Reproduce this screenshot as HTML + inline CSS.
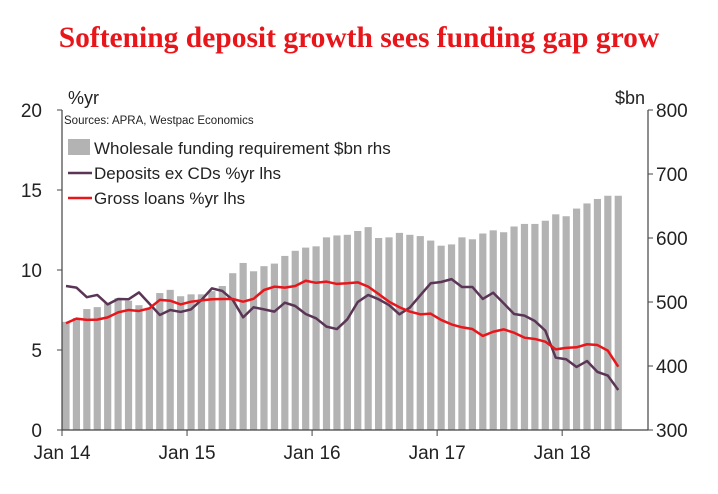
<!DOCTYPE html>
<html><head><meta charset="utf-8"><style>
body{margin:0;background:#fff;width:718px;height:489px;overflow:hidden}
svg text{font-family:"Liberation Sans",sans-serif}
</style></head><body>
<svg width="718" height="489" xmlns="http://www.w3.org/2000/svg">
<text x="359" y="47" text-anchor="middle" fill="#e8161b" font-size="29.5" font-weight="bold" style="font-family:'Liberation Serif',serif">Softening deposit growth sees funding gap grow</text>
<text x="68" y="104" font-size="18" fill="#222">%yr</text>
<text x="615" y="104" font-size="18" fill="#222">$bn</text>
<text x="64" y="124" font-size="11.5" fill="#222">Sources: APRA, Westpac Economics</text>
<g id="bars"></g>
<g id="lines"></g>
<g id="axes"></g>
<g>
<rect x="68" y="139" width="22" height="16" fill="#b3b3b3"/>
<text x="94" y="154" font-size="17" fill="#222">Wholesale funding requirement $bn rhs</text>
<line x1="68" y1="173" x2="92" y2="173" stroke="#5a3556" stroke-width="2.5"/>
<text x="94" y="179" font-size="17" fill="#222">Deposits ex CDs %yr lhs</text>
<line x1="68" y1="198" x2="92" y2="198" stroke="#e8161b" stroke-width="2.5"/>
<text x="94" y="204" font-size="17" fill="#222">Gross loans %yr lhs</text>
</g>
</svg>
<script>
const funding=[469,475,489,492,498,506,502,495,491,514,519,509,512,512,517,525,545,561,548,556,560,572,580,585,587,601,604,605,611,617,600,601,608,605,603,596,588,590,601,598,607,612,609,618,622,622,627,637,634,646,654,661,666,666];
const deposits=[9.0,8.9,8.3,8.44,7.85,8.19,8.17,8.6,7.9,7.19,7.5,7.38,7.54,8.13,8.85,8.69,8.13,7.04,7.67,7.54,7.4,7.96,7.75,7.25,6.98,6.46,6.31,6.92,8.0,8.44,8.17,7.81,7.23,7.65,8.42,9.17,9.25,9.43,8.94,8.94,8.19,8.58,7.92,7.25,7.15,6.81,6.21,4.52,4.42,3.94,4.31,3.63,3.4,2.5];
const loans=[6.67,6.96,6.88,6.9,7.04,7.35,7.5,7.44,7.6,8.13,8.08,7.85,8.02,8.1,8.17,8.19,8.19,8.02,8.2,8.75,8.96,8.9,9.0,9.33,9.2,9.27,9.13,9.17,9.23,8.96,8.5,8.02,7.67,7.4,7.23,7.27,6.88,6.6,6.42,6.31,5.88,6.14,6.29,6.08,5.77,5.69,5.52,5.04,5.13,5.17,5.36,5.31,4.96,3.96];
const leftTicks=[0,5,10,15,20];
const rightTicks=[300,400,500,600,700,800];
const xLabels=["Jan 14","Jan 15","Jan 16","Jan 17","Jan 18"];
const NS="http://www.w3.org/2000/svg";
const X0=62,X1=648,Y0=430,Y1=110,MW=10.42;
const xc=i=>66+i*MW;
const yl=v=>Y0-(v/20)*(Y0-Y1);
const yr=v=>Y0-((v-300)/500)*(Y0-Y1);
function mk(tag,attrs,parent){const e=document.createElementNS(NS,tag);for(const k in attrs)e.setAttribute(k,attrs[k]);parent.appendChild(e);return e;}
const gb=document.getElementById('bars');
funding.forEach((v,i)=>{const r=mk('rect',{x:xc(i)-3.6,y:yr(v),width:7.2,height:Y0-yr(v),fill:'#b3b3b3'},gb);

});
const gl=document.getElementById('lines');
const p1=mk('polyline',{points:deposits.map((v,i)=>xc(i)+','+yl(v)).join(' '),fill:'none',stroke:'#5a3556','stroke-width':2.5,'stroke-linejoin':'round'},gl);


const p2=mk('polyline',{points:loans.map((v,i)=>xc(i)+','+yl(v)).join(' '),fill:'none',stroke:'#e8161b','stroke-width':2.5,'stroke-linejoin':'round'},gl);


const ga=document.getElementById('axes');
mk('line',{x1:X0,y1:Y1,x2:X0,y2:Y0,stroke:'#444','stroke-width':1.2},ga);
mk('line',{x1:X1,y1:Y1,x2:X1,y2:Y0,stroke:'#444','stroke-width':1.2},ga);
mk('line',{x1:X0,y1:Y0,x2:X1,y2:Y0,stroke:'#444','stroke-width':1.2},ga);
leftTicks.forEach(v=>{const y=yl(v);mk('line',{x1:X0-5,y1:y,x2:X0,y2:y,stroke:'#444'},ga);
const t=mk('text',{x:X0-20,y:y+7,'text-anchor':'end','font-size':19,fill:'#222'},ga);t.textContent=v;

});
rightTicks.forEach(v=>{const y=yr(v);mk('line',{x1:X1,y1:y,x2:X1+5,y2:y,stroke:'#444'},ga);
const t=mk('text',{x:X1+8,y:y+7,'font-size':19,fill:'#222'},ga);t.textContent=v;

});
xLabels.forEach((s,k)=>{const x=X0+k*12*MW;mk('line',{x1:x,y1:Y0,x2:x,y2:Y0+6,stroke:'#444'},ga);
const t=mk('text',{x:x,y:459,'text-anchor':'middle','font-size':19,fill:'#222'},ga);t.textContent=s;

});
</script>
</body></html>
